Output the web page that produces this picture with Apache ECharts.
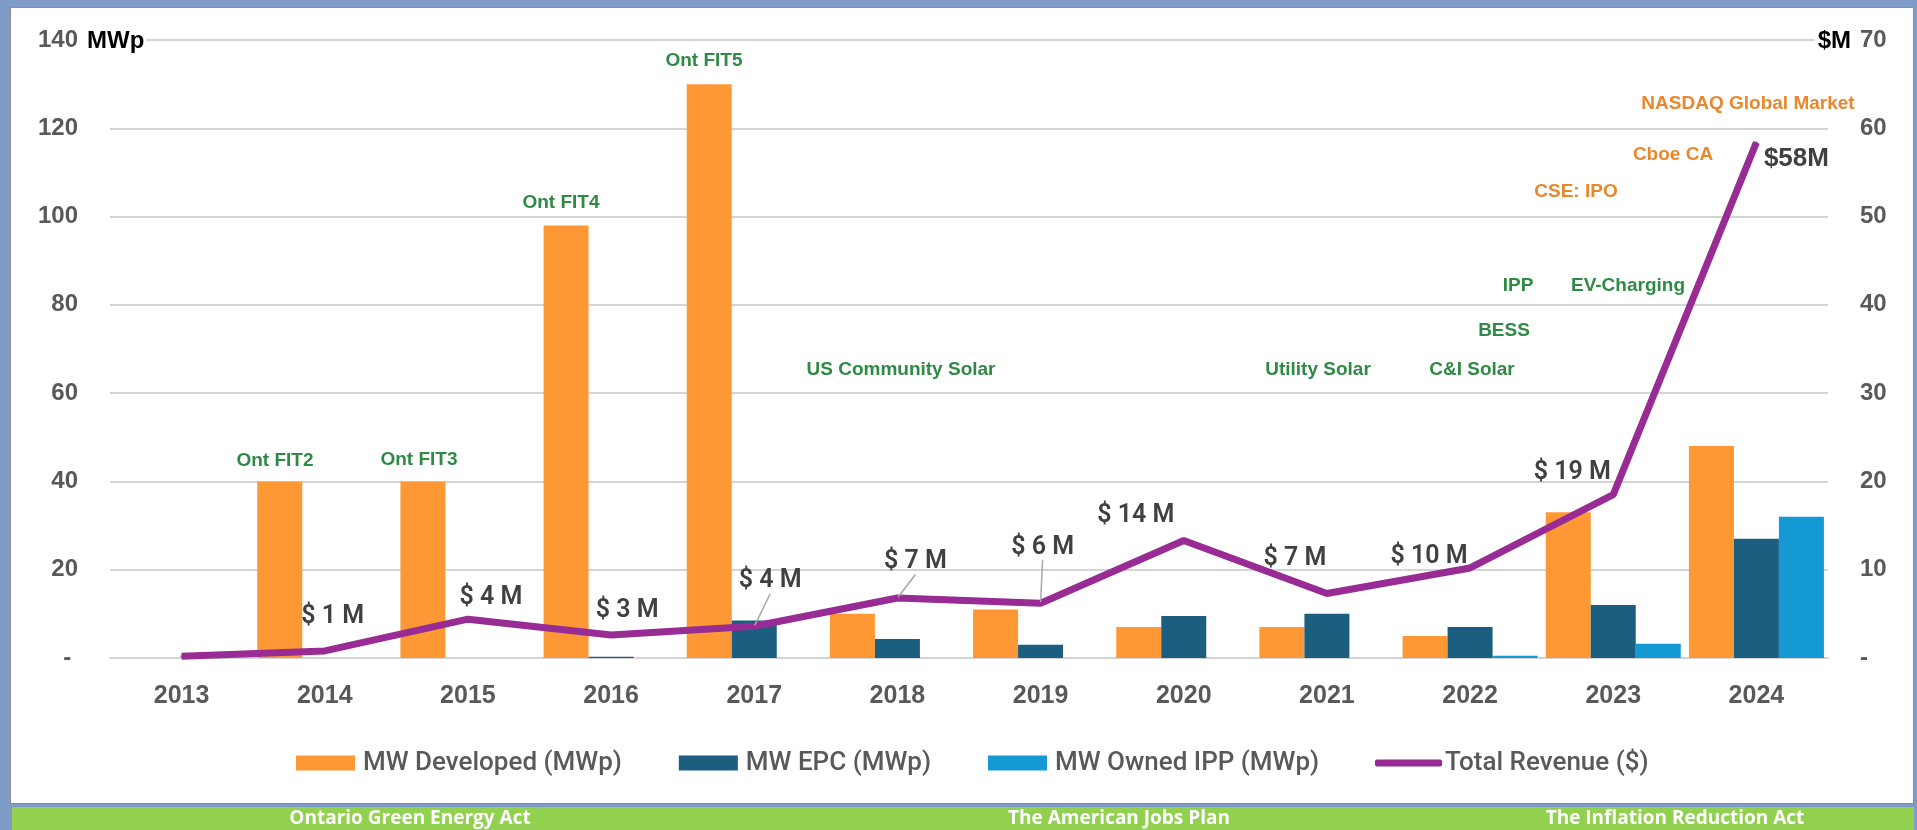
<!DOCTYPE html>
<html>
<head>
<meta charset="utf-8">
<title>MW and revenue</title>
<script src="https://cdn.jsdelivr.net/npm/echarts@6/dist/echarts.min.js"></script>
<style>
  html, body { margin: 0; padding: 0; }
  body { width: 1917px; height: 830px; background: #7f9bc8; position: relative; overflow: hidden; }
  .panel { position: absolute; left: 10px; top: 7px; width: 1902px; height: 795px; background: #fff; border: 1px solid #8d8d8d; }
  .band { position: absolute; left: 12px; top: 807px; width: 1902px; height: 23px; background: #92d050; }
  #chart { position: absolute; left: 0; top: 0; width: 1917px; height: 830px; }
</style>
</head>
<body>
<div class="panel"></div>
<div class="band"></div>
<div id="chart"></div>
<script>
// data
const years = ['2013', '2014', '2015', '2016', '2017', '2018', '2019', '2020', '2021', '2022', '2023', '2024']
const mwDeveloped = [0, 40, 40, 98, 130, 10, 11, 7, 7, 5, 33, 48]
const mwEpc = [0, 0, 0, 0.3, 8.5, 4.3, 3, 9.5, 10, 7, 12, 27]
const mwOwnedIpp = [0, 0, 0, 0, 0, 0, 0, 0, 0, 0.5, 3.2, 32]
const totalRevenue = [0.2, 0.8, 4.4, 2.6, 3.6, 6.8, 6.2, 13.3, 7.3, 10.2, 18.5, 58.4]
const revenueLabels = ['', '$ 1 M', '$ 4 M', '$ 3 M', '$ 4 M', '$ 7 M', '$ 6 M', '$ 14 M', '$ 7 M', '$ 10 M', '$ 19 M', '$58M']
const seriesNames = ['MW Developed (MWp)', 'MW EPC (MWp)', 'MW Owned IPP (MWp)', 'Total Revenue ($)']
const bandTexts = ['Ontario Green Energy Act', 'The American Jobs Plan', 'The Inflation Reduction Act']

// label shifts (px) from each point, and which labels get a leader line
const labelShift = [[0, 0], [8, -34], [23, -21], [16, -24], [16, -45], [18, -36], [2, -56], [-48, -25], [-32, -35], [-41, -11], [-41, -22], [40, 16]]
const withLeader = [4, 5, 6]

// annotation texts placed on the canvas
const green = '#2e8a44'
const orange = '#e8872b'
const notes = [
  { text: 'Ont FIT2', x: 275, y: 461, color: green },
  { text: 'Ont FIT3', x: 419, y: 460, color: green },
  { text: 'Ont FIT4', x: 561, y: 203, color: green },
  { text: 'Ont FIT5', x: 704, y: 61, color: green },
  { text: 'US Community Solar', x: 901, y: 370, color: green },
  { text: 'Utility Solar', x: 1318, y: 370, color: green },
  { text: 'C&I Solar', x: 1472, y: 370, color: green },
  { text: 'BESS', x: 1504, y: 331, color: green },
  { text: 'IPP', x: 1518, y: 286, color: green },
  { text: 'EV-Charging', x: 1628, y: 286, color: green },
  { text: 'CSE: IPO', x: 1576, y: 192, color: orange },
  { text: 'Cboe CA', x: 1673, y: 155, color: orange },
  { text: 'NASDAQ Global Market', x: 1748, y: 104, color: orange }
]

const axisFont = { color: '#595959', fontWeight: 'bold', fontFamily: 'Liberation Sans, Arial, sans-serif' }

const chartInit = () => {
  const myChart = echarts.init(document.getElementById('chart'), null, { renderer: 'canvas' })

  const graphics = notes.map(n => ({
    type: 'text',
    x: n.x,
    y: n.y,
    z: 100,
    style: {
      text: n.text,
      fill: n.color,
      font: 'bold 19px "Liberation Sans", Arial, sans-serif',
      textAlign: 'center',
      textVerticalAlign: 'middle'
    }
  }))
  graphics.push({
    type: 'text', x: 87, y: 41, z: 100,
    style: { text: 'MWp', fill: '#000', font: 'bold 24px "Liberation Sans", Arial, sans-serif', textAlign: 'left', textVerticalAlign: 'middle', backgroundColor: '#fff', padding: [2, 2, 2, 0] }
  })
  graphics.push({
    type: 'text', x: 1851, y: 41, z: 100,
    style: { text: '$M', fill: '#000', font: 'bold 24px "Liberation Sans", Arial, sans-serif', textAlign: 'right', textVerticalAlign: 'middle', backgroundColor: '#fff', padding: [2, 0, 2, 3] }
  })
  const bandX = [410, 1119, 1675]
  bandTexts.forEach((t, i) => {
    graphics.push({
      type: 'text', x: bandX[i], y: 819, z: 100,
      style: { text: t, fill: '#fff', font: 'bold 19px "Open Sans", sans-serif', textAlign: 'center', textVerticalAlign: 'middle' }
    })
  })

  const revenueData = totalRevenue.map((v, i) => {
    const item = { value: v }
    if (i === revenueLabels.length - 1) {
      item.label = { fontFamily: 'Liberation Sans, Arial, sans-serif', fontWeight: 'bold', fontSize: 26 }
    }
    if (withLeader.indexOf(i) >= 0) {
      item.labelLine = { show: true, lineStyle: { color: '#a6a6a6', width: 1.5 } }
    }
    return item
  })

  const option = {
    backgroundColor: 'transparent',
    animation: false,
    grid: { left: 110, right: 89, top: 40, bottom: 172, containLabel: false },
    legend: [
      {
        data: seriesNames.slice(0, 3),
        left: 291,
        top: 745,
        itemWidth: 59,
        itemHeight: 15,
        itemGap: 57,
        icon: 'rect',
        textStyle: { color: '#595959', fontSize: 26, fontWeight: 500, fontFamily: 'Roboto, sans-serif', padding: [0, 0, 0, 3] }
      },
      {
        data: [seriesNames[3]],
        left: 1370,
        top: 745,
        itemWidth: 67,
        itemHeight: 7,
        icon: 'roundRect',
        textStyle: { color: '#595959', fontSize: 26, fontWeight: 500, fontFamily: 'Roboto, sans-serif', padding: [0, 0, 0, -2] }
      }
    ],
    xAxis: {
      type: 'category',
      data: years,
      axisTick: { show: false },
      axisLine: { lineStyle: { color: '#d4d4d4', width: 2 } },
      axisLabel: Object.assign({ fontSize: 25, margin: 26 }, axisFont)
    },
    yAxis: [
      {
        type: 'value',
        min: 0,
        max: 140,
        interval: 20,
        axisLabel: Object.assign({
          fontSize: 24,
          margin: 32,
          formatter: v => (v === 0 ? '- ' : String(v))
        }, axisFont),
        splitLine: { lineStyle: { color: '#d4d4d4', width: 2 } },
        axisLine: { show: false },
        axisTick: { show: false }
      },
      {
        type: 'value',
        min: 0,
        max: 70,
        interval: 10,
        position: 'right',
        axisLabel: Object.assign({
          fontSize: 24,
          margin: 32,
          formatter: v => (v === 0 ? '-' : String(v))
        }, axisFont),
        splitLine: { show: false },
        axisLine: { show: false },
        axisTick: { show: false }
      }
    ],
    series: [
      {
        name: seriesNames[0],
        type: 'bar',
        data: mwDeveloped,
        barWidth: 45,
        barGap: '0%',
        itemStyle: { color: '#fd9834' }
      },
      {
        name: seriesNames[1],
        type: 'bar',
        data: mwEpc,
        barWidth: 45,
        barGap: '0%',
        itemStyle: { color: '#1b5e80' }
      },
      {
        name: seriesNames[2],
        type: 'bar',
        data: mwOwnedIpp,
        barWidth: 45,
        barGap: '0%',
        itemStyle: { color: '#1599d4' }
      },
      {
        name: seriesNames[3],
        type: 'line',
        yAxisIndex: 1,
        data: revenueData,
        symbol: 'circle',
        symbolSize: 2,
        showSymbol: true,
        z: 5,
        itemStyle: { color: '#992c94' },
        lineStyle: { color: '#992c94', width: 7 },
        label: {
          show: true,
          position: 'inside',
          color: '#404040',
          fontFamily: 'Roboto, sans-serif',
          fontWeight: 600,
          fontSize: 25,
          formatter: p => revenueLabels[p.dataIndex]
        },
        labelLine: { show: false },
        labelLayout: p => ({ dx: labelShift[p.dataIndex][0], dy: labelShift[p.dataIndex][1] })
      }
    ],
    graphic: graphics
  }
  myChart.setOption(option)
  window.addEventListener('resize', () => {
    myChart?.resize()
  })
}

chartInit()
</script>
</body>
</html>
